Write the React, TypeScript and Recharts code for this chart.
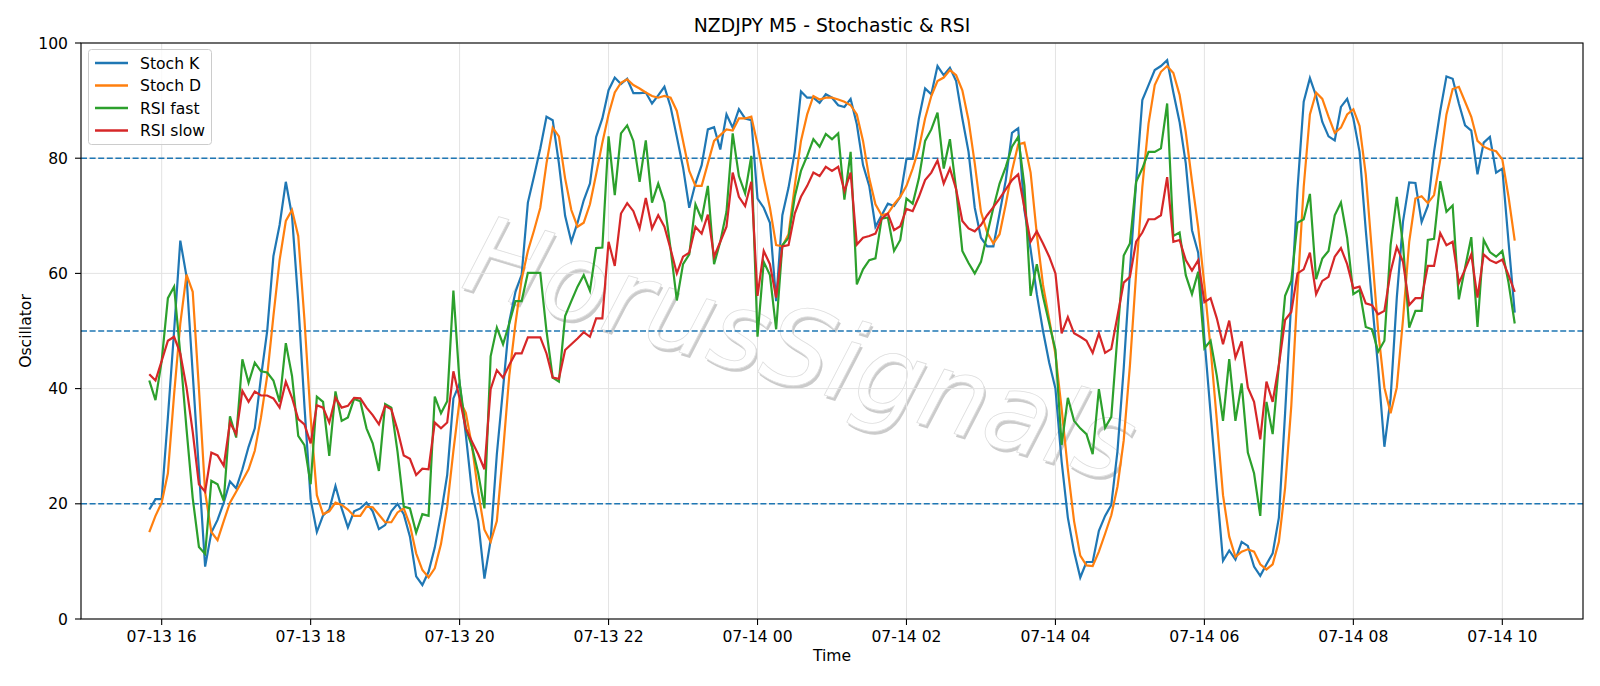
import { CartesianGrid, Line, LineChart, ReferenceLine, XAxis, YAxis } from "recharts";

const W = 1600;
const H = 686;
const FONT = "DejaVu Sans, Liberation Sans, sans-serif";

// plot box in page pixels (matplotlib axes)
const PLOT = { left: 81, top: 43, right: 1583, bottom: 619 };

// M5 bars from 07-13 15:50 to 07-14 10:10, as minutes since 07-13 00:00
const BAR_START = 950;
const BAR_STEP = 5;

const stochK = [
  19, 20.8, 20.8, 35, 50, 65.7, 59.5, 42.6, 25.8, 9.1,
  15, 17.2, 20.2, 23.9, 22.7, 26, 29.9, 33.1, 42, 50,
  63, 68.4, 75.9, 70, 55, 37, 20.8, 15.1, 18,
  19, 23.1, 19.2, 15.9, 18.7, 19.2, 20.2, 18.7, 15.6, 16.3,
  18.7, 20, 18.2, 14.3, 7.4, 5.9, 8.2, 12.4, 18.2, 25,
  38.3, 40.9, 32, 22, 17, 7, 13.7, 28.6, 40,
  51.6, 56.8, 59.8, 72.3, 76.9, 81.7, 87.2, 86.6, 79.1, 70,
  65.5, 68.8, 72.7, 75.6, 83.7, 86.9, 91.8, 94, 92.9, 93.8,
  91.3, 91.3, 91.4, 89.5, 90.9, 92.4, 88.9, 83.7, 78.4,
  71.4, 75.6, 78.8, 85, 85.4, 81.5, 87.6, 85.3, 88.5, 86.9,
  86.6, 73, 71.4, 68.8, 55.2, 70.1, 74.9, 81.1, 91.6, 90.5,
  90.5, 89.6, 91.1, 90.5, 89.2, 88.9, 90.3, 85.9, 78.8,
  75.2, 68.1, 70.1, 72.1, 71.7, 73.3, 79.9, 79.9, 86.9, 92.1,
  91.1, 96, 94.4, 95.7, 93.4, 86.9, 81.1, 71.4, 66.2, 64.7,
  64.7, 70.4, 76.2, 84.4, 85.2, 71, 64.2, 56.4, 50,
  44.5, 40, 27.3, 17.6, 11.7, 7.2, 9.9, 9.9, 15.3, 17.9,
  19.8, 29.2, 43.5, 60.3, 75.9, 90.1, 92.7, 95.3, 96, 97,
  91.4, 86.3, 79.1, 67.5, 63.6, 48.7, 35.7, 22.7, 10.1,
  11.9, 10.3, 13.4, 12.7, 9.1, 7.5, 9.5, 11.4, 17.6, 35.7,
  55.2, 74.6, 89.8, 93.9, 90.8, 86.3, 83.8, 83.1, 88.9, 90.3,
  86.9, 81.1, 67.5, 55.2, 43.5, 29.9, 38.3, 55.8, 69,
  75.8, 75.7, 68.9, 71.7, 81.1, 88.2, 94.2, 93.8, 89.5, 85.7,
  84.8, 77.2, 82.7, 83.7, 77.5, 78.2, 65.5, 53.2,
];

const stochD = [
  15.1, 17.9, 20.2, 25.3, 39, 51.3, 59.8, 56.8, 40, 22,
  15.1, 13.7, 17, 20.2, 22.1, 24, 26, 29.2, 35, 42.2,
  52.6, 62.3, 69.1, 71, 66.5, 52, 35, 21.5, 18.2,
  18.7, 20.2, 19.8, 19, 17.9, 17.9, 19.5, 19.4, 18.1, 16.8,
  16.8, 18.5, 19.2, 16.3, 11.4, 8.5, 7.2, 8.8, 13, 19.5,
  29.2, 38, 35.8, 30, 22, 15.5, 13.4, 17, 29,
  42.2, 51.3, 59, 63.9, 67.5, 71.4, 79.1, 85.3, 83.8, 76.5,
  71, 68.1, 68.8, 72, 77.2, 82.7, 87.6, 91.4, 93.1, 93.7,
  92.7, 92.1, 91.4, 90.8, 90.5, 90.8, 90.5, 88.2, 83,
  77.8, 75.2, 75.2, 79.1, 83, 84, 85, 84.8, 86.9, 86.9,
  87.2, 82.4, 76.5, 71.4, 64.9, 64.7, 66.8, 75.2, 83, 87.6,
  90.8, 90.2, 90.5, 90.5, 90.2, 89.8, 89.2, 87.6, 83,
  76.5, 72, 70.1, 70.4, 72, 73.3, 75.2, 78.2, 81.7, 86.9,
  90.8, 93.4, 94, 95.3, 94.4, 91.8, 86.6, 79.1, 70.7, 67.1,
  65.2, 66.8, 72, 77.8, 82.4, 82.7, 77.5, 66.8, 58,
  52, 46, 36.5, 26, 17, 11, 9.3, 9.2, 11.7, 14.8,
  18, 23, 31, 44, 60, 75, 86, 92.7, 95, 96,
  94.8, 91, 84.5, 76, 68, 58, 47, 34.5, 21.5,
  14.3, 10.8, 11.7, 12.1, 11.7, 9.5, 8.6, 9.5, 13.4, 22.7,
  37, 57, 75, 87.6, 91.4, 90.3, 87.2, 84.4, 85.3, 87.6,
  88.5, 85.6, 77.2, 63.6, 50, 40.2, 35.7, 40.2, 52,
  65.5, 73, 73.4, 72.2, 73.6, 79.7, 87.6, 92, 92.4, 89.8,
  87.2, 83, 82, 81.5, 81.2, 79.8, 73.3, 65.7,
];

const rsiFast = [
  41.4, 38, 44.8, 55.7, 57.7, 46, 33, 21, 12.5, 11.3,
  24, 23.4, 20.5, 35.2, 31.5, 45.1, 41, 44.5, 43, 42.8,
  41.4, 37.7, 47.9, 42.2, 31.8, 30.2, 23.4, 38.6, 37.7,
  28.3, 39.5, 34.4, 35, 38.2, 37.8, 33.1, 30.5, 25.7, 37.3,
  36.7, 29, 19.5, 19.2, 15, 18.2, 17.9, 38.6, 35.7, 37.8,
  57, 41, 33.1, 29.9, 25.3, 19.2, 45.6, 50.6, 47.7,
  51.3, 55.2, 55.2, 60.1, 60.1, 60.1, 50, 41.9, 41.2, 52.6,
  55.2, 57.7, 59.7, 57, 64.4, 64.5, 83.8, 73.6, 84.3, 85.7,
  83, 75.9, 83.1, 72.3, 75.6, 72.3, 64.2, 55.3, 61.6,
  63.3, 72, 69.4, 75.2, 61.6, 65.5, 70.7, 84.3, 76.9, 73.9,
  80.4, 49, 62, 59.7, 50.3, 64.9, 66.2, 73.3, 77.8, 80.4,
  83.3, 82, 84.2, 83.3, 84.3, 72.8, 81.1, 58.1, 60.7,
  62.3, 62.6, 69.5, 69.7, 63.9, 65.8, 73, 72.1, 76.5, 83,
  85, 87.9, 78.2, 83.3, 74.6, 63.9, 61.8, 60, 62, 66.8,
  71.4, 75.6, 78.5, 82, 83.7, 75.2, 56.1, 61.6, 56,
  51.3, 46.7, 30.2, 38.4, 34.4, 33.1, 32.1, 28.6, 39.9, 33.2,
  35.1, 49.3, 63.1, 65.2, 75.9, 78.2, 81.1, 81.1, 81.7, 89.5,
  66.5, 67.1, 59.7, 56.4, 60.3, 47, 48.3, 42.2, 34.4,
  45.1, 34.4, 40.9, 28.9, 25.3, 17.9, 37.7, 32.1, 44.1, 56.1,
  58.7, 68.8, 69.4, 73.8, 59, 62.6, 63.9, 70.1, 72.3, 66.2,
  56.4, 57.1, 50.7, 50.3, 46.4, 48.3, 64.9, 73.3, 65,
  50.6, 53.5, 53.5, 65.8, 66, 76, 70.7, 71.8, 55.5, 61,
  66.3, 50.7, 65.8, 63.7, 62.9, 63.9, 58.4, 51.3,
];

const rsiSlow = [
  42.5, 41.4, 44.8, 48.3, 49, 46.1, 40.2, 32.5, 23.4, 22.1,
  28.9, 28.4, 26.6, 34.1, 32.1, 39.6, 37.7, 39.5, 38.8, 38.8,
  38.3, 36.7, 41.2, 38.4, 34.7, 33.8, 30.5, 37.1, 36.7,
  34.1, 38.4, 36.7, 37, 38.4, 38.3, 36.7, 35.4, 33.8, 37,
  36.4, 32.8, 28.4, 27.8, 25, 26.1, 26, 34.1, 33.1, 34.1,
  43, 38.3, 33.1, 30.8, 28.6, 26, 39.9, 43.2, 41.9,
  44.1, 46.1, 46.1, 48.9, 48.9, 48.9, 46.1, 41.9, 41.7, 46.7,
  47.7, 48.7, 49.8, 49, 52.2, 52.2, 65.5, 61.3, 70.4, 72.2,
  70.8, 67.8, 73.1, 67.8, 70.1, 68.1, 64.2, 60, 62.9,
  63.6, 68.1, 66.9, 70.2, 62.9, 65.5, 68.1, 77.5, 73.3, 71.7,
  75.9, 56.1, 63.9, 61.6, 55.8, 64.7, 64.9, 70.4, 73.3, 75.2,
  77.5, 76.9, 78.5, 77.8, 78.5, 74.3, 77.5, 65, 66.2,
  66.5, 66.9, 69.5, 70.4, 67.5, 68.2, 71.2, 70.8, 73.3, 76.2,
  77.5, 79.6, 75.6, 78.2, 74.6, 69.1, 67.8, 67.3, 68.4, 70.1,
  71.5, 73, 74.6, 76.2, 77.2, 71.4, 65.5, 67.3, 65.2,
  62.9, 60, 49.6, 52.4, 49.6, 49, 48.3, 46.2, 49.6, 46.2,
  46.9, 52.6, 58.4, 59.4, 65.5, 67.1, 69.4, 69.4, 70.1, 76.7,
  65.5, 65.8, 62.3, 60.5, 62.3, 55, 55.7, 52.2, 47.7,
  51.8, 45.4, 48.2, 40.2, 37.7, 31.2, 41.2, 37.7, 44.1, 51.9,
  53.3, 60, 60.7, 63.6, 56.4, 58.7, 59.4, 62.9, 64.4, 61.6,
  57.4, 57.7, 54.8, 54.5, 52.9, 53.5, 60.3, 64.6, 62,
  54.5, 55.7, 55.7, 61.3, 61.3, 67, 64.9, 65.5, 58.3, 60.7,
  63.3, 55.8, 63.3, 62.3, 61.8, 62.4, 59.7, 56.8,
];

const xTicks = [960, 1080, 1200, 1320, 1440, 1560, 1680, 1800, 1920, 2040];
const xTickLabels = [
  "07-13 16", "07-13 18", "07-13 20", "07-13 22", "07-14 00",
  "07-14 02", "07-14 04", "07-14 06", "07-14 08", "07-14 10",
];
const yTicks = [0, 20, 40, 60, 80, 100];
const levels = [20, 50, 80];

const series = [
  { key: "k", name: "Stoch K", color: "#1f77b4" },
  { key: "d", name: "Stoch D", color: "#ff7f0e" },
  { key: "fast", name: "RSI fast", color: "#2ca02c" },
  { key: "slow", name: "RSI slow", color: "#d62728" },
];

const rows = stochK.map((k, i) => ({
  t: BAR_START + BAR_STEP * i,
  k,
  d: stochD[i],
  fast: rsiFast[i],
  slow: rsiSlow[i],
}));

// matplotlib pads the x range by 5% on each side
const tFirst = rows[0].t;
const tLast = rows[rows.length - 1].t;
const tPad = (tLast - tFirst) * 0.05;
const xDomain: [number, number] = [tFirst - tPad, tLast + tPad];

const tickStyle = { fontSize: 15.6, fill: "#000", fontFamily: FONT };

function Watermark() {
  const cx = 790;
  const cy = 385;
  return (
    <svg width={W} height={H} style={{ position: "absolute", left: 0, top: 0 }}>
      <g transform={`rotate(16.5 ${cx} ${cy})`} fontFamily={FONT} fontStyle="italic" fontSize={108} textAnchor="middle">
        {/* soft shadow, then white text on top */}
        <text x={cx + 2.5} y={cy + 2.5} fill="#cbcbcb" textLength={690} lengthAdjust="spacingAndGlyphs">
          HorusSignals
        </text>
        <text x={cx} y={cy} fill="#ffffff" stroke="#dedede" strokeWidth={0.8} textLength={690} lengthAdjust="spacingAndGlyphs">
          HorusSignals
        </text>
      </g>
    </svg>
  );
}

function Overlay() {
  const rowY = [63, 85.5, 108, 130.5];
  return (
    <svg width={W} height={H} style={{ position: "absolute", left: 0, top: 0, pointerEvents: "none" }} fontFamily={FONT}>
      <rect
        x={PLOT.left}
        y={PLOT.top}
        width={PLOT.right - PLOT.left}
        height={PLOT.bottom - PLOT.top}
        fill="none"
        stroke="#000"
        strokeWidth={1.1}
      />
      <text x={(PLOT.left + PLOT.right) / 2} y={32} textAnchor="middle" fontSize={18.8} fill="#000">
        NZDJPY M5 - Stochastic &amp; RSI
      </text>
      <text x={(PLOT.left + PLOT.right) / 2} y={661} textAnchor="middle" fontSize={15.6} fill="#000">
        Time
      </text>
      <text
        x={31}
        y={(PLOT.top + PLOT.bottom) / 2}
        textAnchor="middle"
        fontSize={15.6}
        fill="#000"
        transform={`rotate(-90 31 ${(PLOT.top + PLOT.bottom) / 2})`}
      >
        Oscillator
      </text>

      {/* legend, upper left */}
      <rect x={88.5} y={49.5} width={123} height={95} rx={3} fill="#fff" fillOpacity={0.8} stroke="#cccccc" strokeWidth={1} />
      {series.map((s, i) => (
        <g key={s.key}>
          <line x1={95} x2={128} y1={rowY[i]} y2={rowY[i]} stroke={s.color} strokeWidth={2.3} />
          <text x={140} y={rowY[i] + 5.6} fontSize={15.6} fill="#000">
            {s.name}
          </text>
        </g>
      ))}
    </svg>
  );
}

export default function App() {
  return (
    <div style={{ position: "relative", width: W, height: H, background: "#fff", overflow: "hidden" }}>
      <style>{"body{margin:0}"}</style>
      <Watermark />
      <div style={{ position: "absolute", left: 0, top: 0 }}>
        <LineChart
          width={W}
          height={H}
          data={rows}
          margin={{ top: PLOT.top, right: W - PLOT.right, bottom: 0, left: 0 }}
        >
          <CartesianGrid stroke="#e3e3e3" strokeWidth={1} />
          <XAxis
            dataKey="t"
            type="number"
            domain={xDomain}
            ticks={xTicks}
            tickFormatter={(v: number) => xTickLabels[xTicks.indexOf(v)] ?? ""}
            height={H - PLOT.bottom}
            tick={tickStyle}
            tickSize={6}
            tickMargin={6}
            tickLine={{ stroke: "#000", strokeWidth: 1.1 }}
            axisLine={false}
            interval={0}
          />
          <YAxis
            type="number"
            domain={[0, 100]}
            ticks={yTicks}
            width={PLOT.left}
            tick={tickStyle}
            tickSize={6}
            tickMargin={7}
            tickLine={{ stroke: "#000", strokeWidth: 1.1 }}
            axisLine={false}
            interval={0}
          />

          {/* overbought / mid / oversold levels */}
          {levels.map((lv) => (
            <ReferenceLine key={lv} y={lv} stroke="#1f77b4" strokeWidth={1.4} strokeDasharray="6 2.6" />
          ))}

          {series.map((s) => (
            <Line
              key={s.key}
              type="linear"
              dataKey={s.key}
              name={s.name}
              stroke={s.color}
              strokeWidth={2.2}
              dot={false}
              activeDot={false}
              isAnimationActive={false}
            />
          ))}
        </LineChart>
      </div>
      <Overlay />
    </div>
  );
}
